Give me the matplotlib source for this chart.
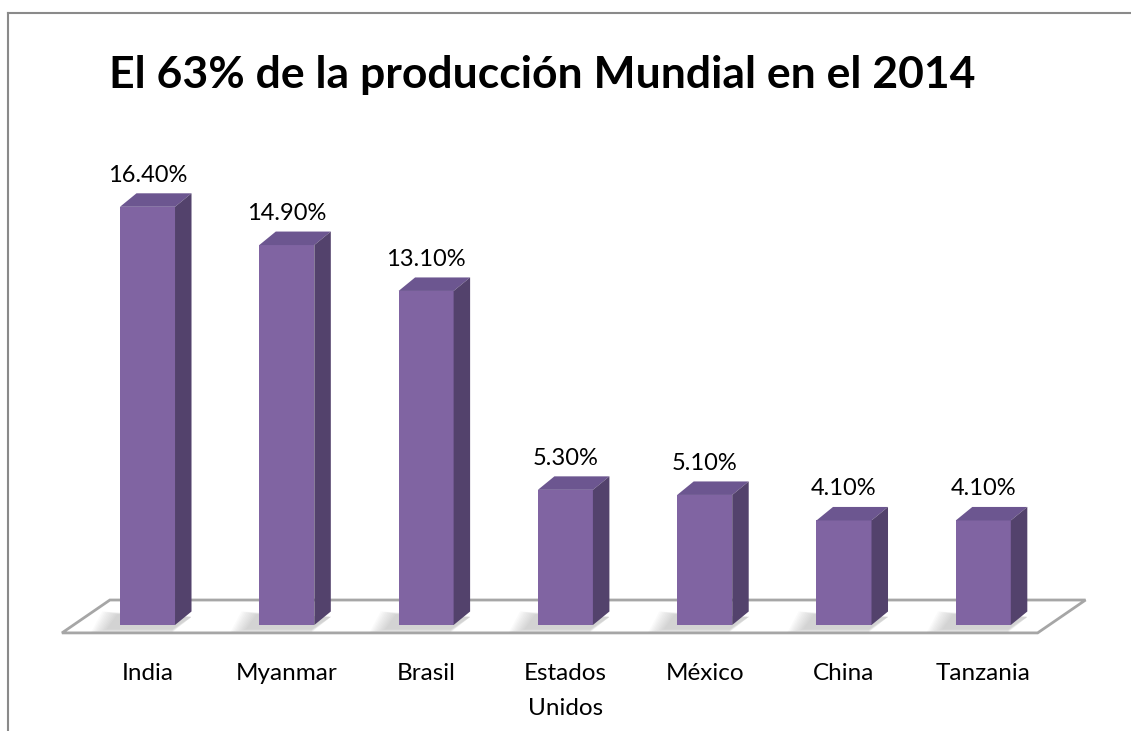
import matplotlib
matplotlib.use('Agg')
import matplotlib.pyplot as plt
from matplotlib.patches import Polygon
from matplotlib.lines import Line2D

categories = ['India', 'Myanmar', 'Brasil', 'Estados\nUnidos', 'México', 'China', 'Tanzania']
values = [16.4, 14.9, 13.1, 5.3, 5.1, 4.1, 4.1]
value_labels = ['16.40%', '14.90%', '13.10%', '5.30%', '5.10%', '4.10%', '4.10%']
title = 'El 63% de la producción Mundial en el 2014'

FRONT = '#8064a2'
TOP = '#6c5690'
SIDE = '#53426c'
FLOOR_EDGE = '#a6a6a6'
FONT = ['Lato', 'DejaVu Sans']

W, H = 1131, 731
fig = plt.figure(figsize=(W / 100, H / 100), dpi=100)
ax = fig.add_axes([0, 0, 1, 1])
px_cat, px_unit = 139.3, 25.5
x0_px, y0_px = 147.5, H - 625
ax.set_xlim(-x0_px / px_cat, (W - x0_px) / px_cat)
ax.set_ylim(-y0_px / px_unit, (H - y0_px) / px_unit)
ax.axis('off')

n = len(values)
w = 0.395
dx, dy = 16.5 / px_cat, 13.5 / px_unit

# floor
fl_front, fl_back = -0.31, 0.98
fl_dx = 0.344
fxl, fxr = -0.5 - 0.114, n - 0.5 - 0.11
floor = Polygon([(fxl, fl_front), (fxr, fl_front), (fxr + fl_dx, fl_back), (fxl + fl_dx, fl_back)],
                closed=True, facecolor='white', edgecolor=FLOOR_EDGE, lw=2, zorder=1)
ax.add_patch(floor)

xs = list(range(n))
# soft shadows on the floor
for x in xs:
    for k in range(10):
        e = 0.012 * k
        sh = Polygon([(x - w / 2 - 0.10 - e, -0.18 - e), (x + w / 2 - 0.02, -0.18 - e),
                      (x + w / 2 + dx, dy * 0.6), (x - w / 2 - 0.02 - e, dy * 0.8 + e)],
                     closed=True, facecolor='#707070', edgecolor='none', alpha=0.03, zorder=2)
        ax.add_patch(sh)

ax.bar(xs, values, width=w, color=FRONT, edgecolor='none', zorder=4)
for x, v in zip(xs, values):
    top = Polygon([(x - w / 2, v), (x + w / 2, v), (x + w / 2 + dx, v + dy), (x - w / 2 + dx, v + dy)],
                  closed=True, facecolor=TOP, edgecolor='none', zorder=4)
    side = Polygon([(x + w / 2, 0), (x + w / 2 + dx, dy), (x + w / 2 + dx, v + dy), (x + w / 2, v)],
                   closed=True, facecolor=SIDE, edgecolor='none', zorder=4)
    ax.add_patch(top)
    ax.add_patch(side)

for x, v, lab in zip(xs, values, value_labels):
    ax.text(x, v + dy + 0.45, lab, ha='center', va='baseline', fontsize=17,
            family=FONT, color='black', zorder=5)

for x, c in zip(xs, categories):
    ax.text(x, -(663 - 625) / px_unit, c, ha='center', va='top', fontsize=17.5, family=FONT,
            color='black', linespacing=1.8)

fig.text(542 / W, 1 - 88 / H, title, ha='center', va='baseline', fontsize=32,
         fontweight='bold', family=FONT, color='black')

# frame (top and left visible)
fig.add_artist(Line2D([8 / W, 1], [1 - 13 / H, 1 - 13 / H], color='#8a8a8a', lw=1.5,
                      transform=fig.transFigure))
fig.add_artist(Line2D([8 / W, 8 / W], [1 - 13 / H, 0], color='#8a8a8a', lw=1.5,
                      transform=fig.transFigure))

fig.savefig('out.png', dpi=100)
